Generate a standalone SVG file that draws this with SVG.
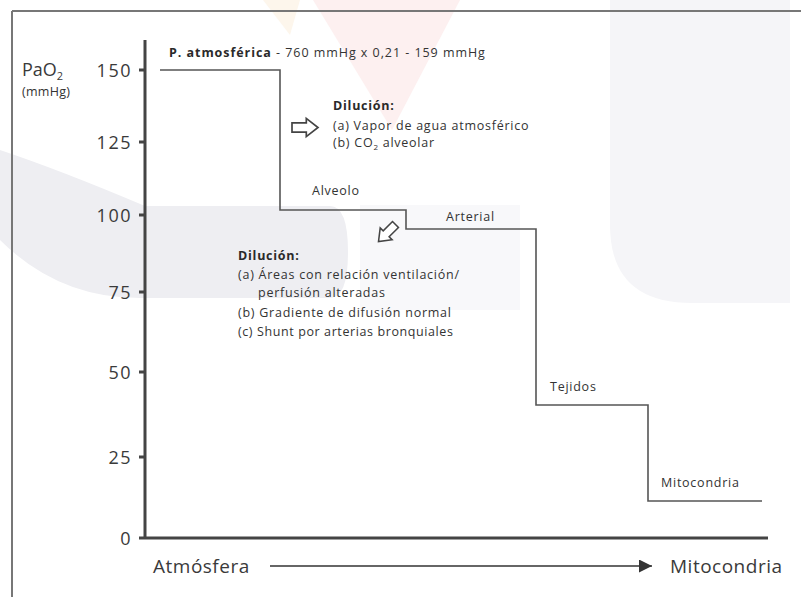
<svg xmlns="http://www.w3.org/2000/svg" width="801" height="597" viewBox="0 0 801 597">
  <style>
    .sm { font-family: "Open Sans", "Liberation Sans", sans-serif; font-size: 12.5px; fill: #333; letter-spacing: 0.75px; }
    .b { font-weight: bold; fill: #2a2a2a; }
    .lg { font-family: "Open Sans", "Liberation Sans", sans-serif; font-size: 18px; fill: #3a3a3a; }
    .xl { font-family: "Open Sans", "Liberation Sans", sans-serif; font-size: 19px; fill: #3a3a3a; letter-spacing: 0.5px; }
    .tick { font-family: "Open Sans", "Liberation Sans", sans-serif; font-size: 18px; fill: #3a3a3a; text-anchor: end; letter-spacing: 1.5px; }
    .axis { stroke: #444; stroke-width: 3; fill: none; }
    .step { stroke: #555; stroke-width: 1.6; fill: none; }
    .hollow { fill: #fff; stroke: #444; stroke-width: 1.3; stroke-linejoin: miter; }
  </style>
  <defs>
    <marker id="ah" viewBox="0 0 10 10" refX="10" refY="5" markerWidth="17" markerHeight="13" markerUnits="userSpaceOnUse" orient="auto">
      <path d="M0,0 L10,5 L0,10 Z" fill="#333"/>
    </marker>
    <path id="harrow" d="M-10,-3.5 H1 V-7 L10,0 L1,7 V3.5 H-10 Z"/>
  </defs>
  <rect width="801" height="597" fill="#fff"/>
  <g id="watermark">
    <path d="M610,0 H790 V303 H692 Q610,303 610,225 Z" fill="#f5f5f8"/>
    <path d="M313,0 H460 L392,130 Z" fill="#fdf0f0"/>
    <path d="M263,0 H300 L290,35 Z" fill="#fdf6ec"/>
    <path d="M0,150 Q60,170 145,206 H330 Q348,206 348,252 Q348,298 330,298 H145 Q60,300 0,240 Z" fill="#eeeef2"/>
    <path d="M360,205 H520 V310 H360 Z" fill="#f8f8fa"/>
  </g>
  <g id="frame">
    <path d="M12,11 H801 M12,11 V597" stroke="#777" stroke-width="2" fill="none"/>
  </g>
  <g id="axes">
    <path class="axis" d="M145,40 V538 M139,538 H768"/>
    <path class="axis" d="M139,70 H145 M139,142 H145 M139,215 H145 M139,292 H145 M139,372 H145 M139,457 H145"/>
    <text class="tick" x="132" y="77">150</text>
    <text class="tick" x="132" y="149">125</text>
    <text class="tick" x="132" y="222">100</text>
    <text class="tick" x="132" y="299">75</text>
    <text class="tick" x="132" y="379">50</text>
    <text class="tick" x="132" y="464">25</text>
    <text class="tick" x="132" y="545">0</text>
    <text class="lg" x="22" y="76">PaO<tspan font-size="11" dy="4">2</tspan></text>
    <text class="sm" x="22" y="96" font-size="11" style="letter-spacing:0.3px">(mmHg)</text>
  </g>
  <g id="connectors">
    <path class="step" d="M160,70 H280 V210 H406 V229 H536 V405 H648 V501 H762"/>
    <line x1="270" y1="566" x2="652" y2="566" stroke="#333" stroke-width="1.3" marker-end="url(#ah)"/>
  </g>
  <g id="atmosfera-label">
    <text class="sm" x="169" y="57" style="letter-spacing:0.95px"><tspan class="b">P. atmosférica</tspan> - 760 mmHg x 0,21 - 159 mmHg</text>
  </g>
  <g id="dilucion1">
    <use href="#harrow" class="hollow" transform="translate(305,127.5) scale(1.3)"/>
    <text class="sm b" x="333" y="110">Dilución:</text>
    <text class="sm" x="333" y="130">(a) Vapor de agua atmosférico</text>
    <text class="sm" x="333" y="147">(b) CO<tspan font-size="8" dy="3">2</tspan><tspan dy="-3"> alveolar</tspan></text>
  </g>
  <g id="alveolo"><text class="sm" x="312" y="195">Alveolo</text></g>
  <g id="arterial"><text class="sm" x="446" y="221">Arterial</text></g>
  <g id="dilucion2">
    <use href="#harrow" class="hollow" transform="translate(387,233) rotate(135) scale(1.2)"/>
    <text class="sm b" x="238" y="260">Dilución:</text>
    <text class="sm" x="238" y="279">(a) Áreas con relación ventilación/</text>
    <text class="sm" x="258" y="297">perfusión alteradas</text>
    <text class="sm" x="238" y="317">(b) Gradiente de difusión normal</text>
    <text class="sm" x="238" y="336" style="letter-spacing:0.6px">(c) Shunt por arterias bronquiales</text>
  </g>
  <g id="tejidos"><text class="sm" x="550" y="391">Tejidos</text></g>
  <g id="mitocondria"><text class="sm" x="661" y="487">Mitocondria</text></g>
  <g id="xlabels">
    <text class="xl" x="153" y="573">Atmósfera</text>
    <text class="xl" x="670" y="573">Mitocondria</text>
  </g>
</svg>
